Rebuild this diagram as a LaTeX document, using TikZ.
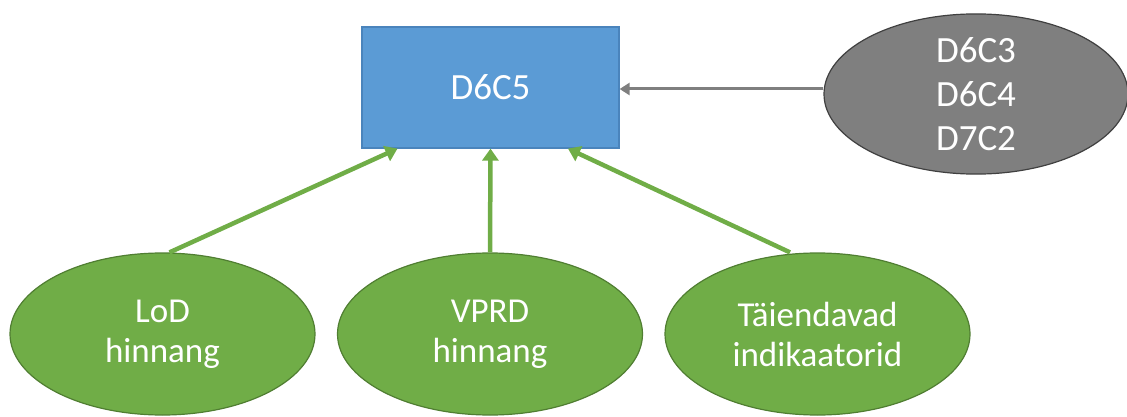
\documentclass[tikz,border=0pt]{standalone}
\usepackage{fontspec}
\setmainfont{Carlito}
\usetikzlibrary{arrows.meta,shapes.geometric,calc}
\definecolor{boxblue}{HTML}{5B9BD5}
\definecolor{boxblueedge}{HTML}{4A84BC}
\definecolor{leafgreen}{HTML}{70AD47}
\definecolor{leafgreenedge}{HTML}{507E32}
\definecolor{midgray}{HTML}{7F7F7F}
\definecolor{darkgrayedge}{HTML}{404040}
\definecolor{arrowgray}{HTML}{7F7F7F}
\tikzset{
  mainbox/.style={rectangle, draw=boxblueedge, fill=boxblue, line width=1.2pt,
    minimum width=257pt, minimum height=121pt, inner sep=0pt,
    text=white, font=\fontsize{37}{44}\selectfont},
  grayell/.style={ellipse, draw=darkgrayedge, fill=midgray, line width=1.2pt,
    minimum width=304pt, minimum height=148pt, inner sep=0pt,
    text=white, align=center, font=\fontsize{37}{44}\selectfont},
  greenell/.style={ellipse, draw=leafgreenedge, fill=leafgreen, line width=1.2pt,
    minimum width=305pt, minimum height=162pt, inner sep=0pt,
    text=white, align=center, font=\fontsize{35}{40}\selectfont},
  greenarrow/.style={draw=leafgreen, line width=4.5pt, -{Triangle[width=16pt,length=12pt]}},
  grayarrow/.style={draw=arrowgray, line width=3pt, -{Triangle[width=12pt,length=10pt]}}
}
\begin{document}
\begin{tikzpicture}[x=1pt,y=-1pt]
\useasboundingbox (0,0) rectangle (1127,417);
\node[mainbox] (r) at (490.5,87.5) {D6C5};
\node[grayell] (g) at (976,94) {D6C3\\D6C4\\D7C2};
\node[greenell] (e1) at (162.5,334) {LoD\\hinnang};
\node[greenell] (e2) at (490,334) {VPRD\\hinnang};
\node[greenell] (e3) at (817.5,334) {Täiendavad\\indikaatorid};
\draw[grayarrow] ([yshift=5pt]g.west) -- ([yshift=5pt]g.west -| r.east);
\draw[greenarrow] ([xshift=7pt]e1.north) -- ([xshift=-93pt]r.south);
\draw[greenarrow] (e2.north) -- (r.south);
\draw[greenarrow] ([xshift=-27.5pt]e3.north) -- ([xshift=77.5pt]r.south);
\end{tikzpicture}
\end{document}
